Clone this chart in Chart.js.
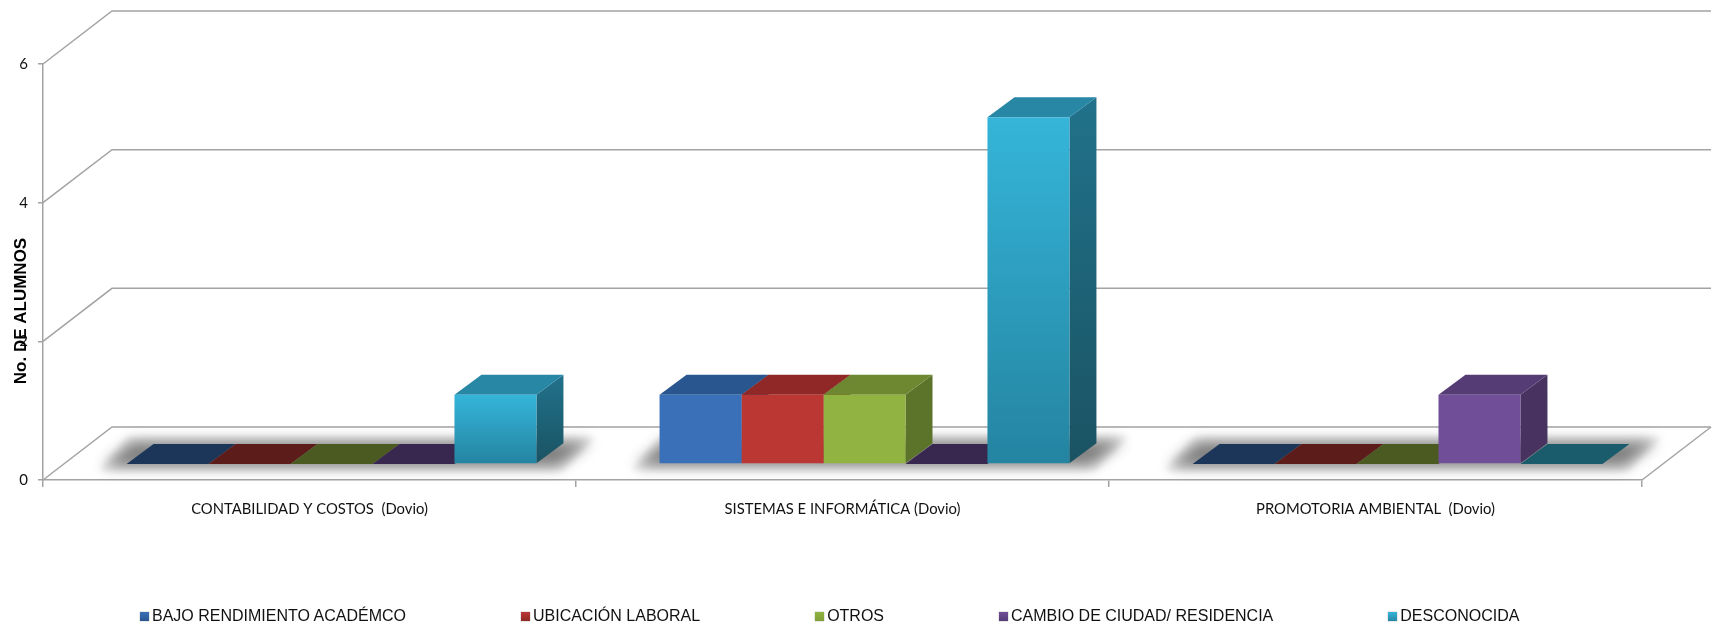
<!DOCTYPE html>
<html lang="es">
<head>
<meta charset="utf-8">
<title>No. de alumnos</title>
<script src="https://cdn.jsdelivr.net/npm/chart.js@4/dist/chart.umd.js"></script>
<style>
  html, body { margin: 0; padding: 0; background: #fff; }
  .wrap { position: relative; width: 1716px; height: 627px; overflow: hidden; }
  #legend {
    position: absolute; left: 140px; top: 607px; display: flex; gap: 115px;
    font: 16px "Liberation Sans", sans-serif; color: #111; white-space: nowrap;
  }
  #legend div { display: flex; align-items: center; height: 18px; }
  #legend i { display: block; width: 9px; height: 9px; margin-right: 3px; box-shadow: 0 0 1px #777; }
</style>
</head>
<body>
<div class="wrap">
  <canvas id="chart" width="1716" height="627"></canvas>
  <div id="legend"></div>
</div>
<script>
const categories = ["CONTABILIDAD Y COSTOS  (Dovio)", "SISTEMAS E INFORMÁTICA (Dovio)", "PROMOTORIA AMBIENTAL  (Dovio)"];
const seriesNames = ["BAJO RENDIMIENTO ACADÉMCO", "UBICACIÓN LABORAL", "OTROS", "CAMBIO DE CIUDAD/ RESIDENCIA", "DESCONOCIDA"];
const bajoRendimiento = [0, 1, 0];
const ubicacionLaboral = [0, 1, 0];
const otros = [0, 1, 0];
const cambioCiudad = [0, 0, 1];
const desconocida = [1, 5, 0];
const yTicks = [0, 2, 4, 6];

// colours per series: front, top, side, flat (zero value)
const frontColors = ["#3a70b8", "#bb3733", "#90b341", "#704e98", "#35b5d9"];
const frontBottom = ["#3a70b8", "#bb3733", "#90b341", "#704e98", "#2484a1"];
const topColors = ["#2a5690", "#8f2826", "#6e8832", "#553c75", "#2787a5"];
const sideColors = ["#234a7c", "#7a2220", "#5c732a", "#483260", "#21728b"];
const sideBottom = ["#234a7c", "#7a2220", "#5c732a", "#483260", "#1a5363"];
const flatColors = ["#1c3659", "#5c1c1a", "#4a5a20", "#38284f", "#1a5c6c"];
const swatchEnd = ["#2a5690", "#8f2826", "#7f9e38", "#553c75", "#2787a5"];

// 3D look
const wallDx = 69, wallDy = 53;   // walls behind the axes
const barDx = 22, barDy = 16;     // front of the bars sits this far inside the floor
const depthX = 27, depthY = 20;   // depth of a bar
const gridColor = "#a3a3a3";

function poly(ctx, pts, fill) {
  ctx.beginPath();
  pts.forEach((p, i) => (i ? ctx.lineTo(p[0], p[1]) : ctx.moveTo(p[0], p[1])));
  ctx.closePath();
  ctx.fillStyle = fill;
  ctx.fill();
}

// only the blur of the shape shows: the shape itself is painted off the canvas
function floorShadow(ctx, x0, x1, b, g, blur, shadow) {
  const off = 3000;
  ctx.save();
  ctx.shadowColor = shadow;
  ctx.shadowBlur = blur;
  ctx.shadowOffsetY = off;
  poly(ctx, [
    [x0 - 24 - g, b + 3 + g - off],
    [x0 + depthX - 22 - g, b - depthY - 3 - g - off],
    [x1 + depthX + 28 + g, b - depthY - 3 - g - off],
    [x1 + 22 + g, b + 3 + g - off],
  ], "#000");
  ctx.restore();
}

const scene3d = {
  id: "scene3d",
  beforeDatasetsDraw(chart) {
    const { ctx, chartArea, scales } = chart;
    ctx.save();
    // back walls
    ctx.strokeStyle = gridColor;
    ctx.lineWidth = 1.5;
    yTicks.forEach((v) => {
      const y = scales.y.getPixelForValue(v);
      ctx.beginPath();
      ctx.moveTo(chartArea.left, y);
      ctx.lineTo(chartArea.left + wallDx, y - wallDy);
      ctx.lineTo(chartArea.right + wallDx, y - wallDy);
      ctx.stroke();
    });
    const y0 = scales.y.getPixelForValue(0);
    ctx.beginPath();
    ctx.moveTo(chartArea.right, y0);
    ctx.lineTo(chartArea.right + wallDx, y0 - wallDy);
    ctx.stroke();

    // everything about the bars is shifted inside the floor
    ctx.translate(barDx, -barDy);
    const metas = chart.data.datasets.map((d, i) => chart.getDatasetMeta(i));

    // floor shadow under each group
    categories.forEach((c, k) => {
      const l = metas[0].data[k], r = metas[metas.length - 1].data[k];
      const x0 = l.x - l.width / 2, x1 = r.x + r.width / 2, b = l.base;
      floorShadow(ctx, x0, x1, b, 4, 6, "rgba(0,0,0,0.08)");
      floorShadow(ctx, x0, x1, b, 0, 14, "rgba(0,0,0,0.46)");
    });

    // top and side faces, left to right; fronts are drawn over them by the library
    categories.forEach((c, k) => {
      metas.forEach((m, s) => {
        const bar = m.data[k];
        const x0 = bar.x - bar.width / 2, x1 = bar.x + bar.width / 2;
        const top = bar.y, base = bar.base;
        if (base - top < 0.5) {
          poly(ctx, [[x0, base], [x0 + depthX, base - depthY], [x1 + depthX, base - depthY], [x1, base]], flatColors[s]);
          return;
        }
        const side = ctx.createLinearGradient(0, top - depthY, 0, base);
        side.addColorStop(0, sideColors[s]);
        side.addColorStop(1, sideBottom[s]);
        poly(ctx, [[x1, top], [x1 + depthX, top - depthY], [x1 + depthX, base - depthY], [x1, base]], side);
        poly(ctx, [[x0, top], [x0 + depthX, top - depthY], [x1 + depthX, top - depthY], [x1, top]], topColors[s]);
      });
    });
  },
  afterDatasetsDraw(chart) {
    chart.ctx.restore();
  },
  afterDraw(chart) {
    // axis title sits low on the axis in the original, over the "2"
    const { ctx } = chart;
    ctx.save();
    ctx.translate(21, 311);
    ctx.rotate(-Math.PI / 2);
    ctx.font = "bold 17px 'Liberation Sans'";
    ctx.fillStyle = "#000";
    ctx.textAlign = "center";
    ctx.textBaseline = "middle";
    ctx.fillText("No. DE ALUMNOS", 0, 0);
    ctx.restore();
  },
};

function frontFill(s) {
  return (c) => {
    if (c.type !== "data" || frontColors[s] === frontBottom[s]) return frontColors[s];
    const y = c.chart.scales.y;
    const y1 = y.getPixelForValue(c.raw), y2 = y.getPixelForValue(0);
    if (!isFinite(y1) || !isFinite(y2)) return frontColors[s];
    const g = c.chart.ctx.createLinearGradient(0, y1, 0, y2);
    g.addColorStop(0, frontColors[s]);
    g.addColorStop(1, frontBottom[s]);
    return g;
  };
}

const values = [bajoRendimiento, ubicacionLaboral, otros, cambioCiudad, desconocida];

new Chart(document.getElementById("chart"), {
  type: "bar",
  data: {
    labels: categories,
    datasets: seriesNames.map((name, s) => ({
      label: name,
      data: values[s],
      backgroundColor: frontFill(s),
      barPercentage: 1,
      categoryPercentage: 0.769,
    })),
  },
  options: {
    responsive: false,
    animation: false,
    layout: { padding: { top: 64, right: 74, left: 0, bottom: 0 } },
    plugins: { legend: { display: false }, tooltip: { enabled: false } },
    scales: {
      x: {
        afterFit: (s) => { s.height = 147; },
        border: { color: gridColor, width: 1.5 },
        grid: { drawOnChartArea: false, color: gridColor, tickLength: 7, lineWidth: 1.5 },
        ticks: { color: "#111", font: { family: "Lato", size: 14.8 }, padding: 13, maxRotation: 0 },
      },
      y: {
        min: 0,
        max: 6,
        afterFit: (s) => { s.width = 43; },
        afterBuildTicks: (s) => { s.ticks = yTicks.map((v) => ({ value: v })); },
        border: { color: gridColor, width: 1.5 },
        grid: { drawOnChartArea: false, color: gridColor, tickLength: 5, lineWidth: 1.5 },
        ticks: { color: "#111", font: { family: "Lato", size: 15 }, padding: 10 },
      },
    },
  },
  plugins: [scene3d],
});

// html legend, the gaps are too wide for the built in one
document.getElementById("legend").innerHTML = seriesNames
  .map((name, s) => `<div><i style="background:linear-gradient(${frontColors[s]},${swatchEnd[s]})"></i>${name}</div>`)
  .join("");
</script>
</body>
</html>
